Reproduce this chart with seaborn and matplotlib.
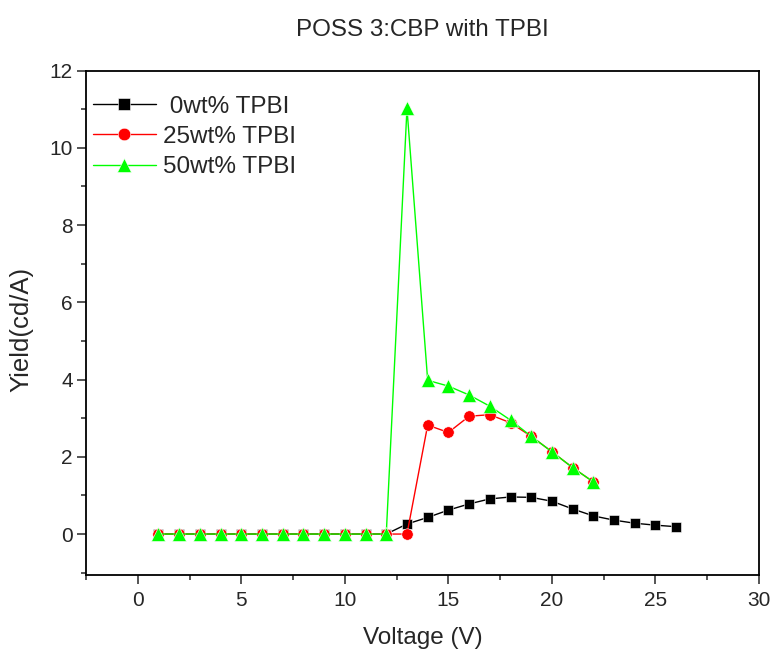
import matplotlib
matplotlib.use("Agg")
import matplotlib.pyplot as plt
import seaborn as sns
import pandas as pd
from matplotlib.ticker import MultipleLocator

# ---- data ----
v_0 = list(range(1, 27))
y_0 = [0, 0, 0, 0, 0, 0, 0, 0, 0, 0, 0, 0,
       0.26, 0.43, 0.62, 0.78, 0.91, 0.96, 0.95, 0.85, 0.65, 0.47, 0.36, 0.28, 0.23, 0.19]
v_25 = list(range(1, 23))
y_25 = [0, 0, 0, 0, 0, 0, 0, 0, 0, 0, 0, 0, 0,
        2.82, 2.63, 3.05, 3.09, 2.88, 2.53, 2.13, 1.72, 1.35]
v_50 = list(range(1, 23))
y_50 = [0, 0, 0, 0, 0, 0, 0, 0, 0, 0, 0, 0,
        11.02, 3.98, 3.83, 3.60, 3.31, 2.95, 2.53, 2.13, 1.72, 1.35]
labels = [" 0wt% TPBI", "25wt% TPBI", "50wt% TPBI"]
title = "POSS 3:CBP with TPBI"
xlabel = "Voltage (V)"
ylabel = "Yield(cd/A)"

sns.set_style("ticks")
plt.rcParams["font.family"] = ["Liberation Sans", "DejaVu Sans"]

fig = plt.figure(figsize=(7.76, 6.57), dpi=100)
ax = fig.add_axes([86 / 776, 1 - 575 / 657, (759 - 86) / 776, (575 - 70.5) / 657])

series = [
    (v_0, y_0, labels[0], "black", "s", 7.6),
    (v_25, y_25, labels[1], "#ff0000", "o", 8.2),
    (v_50, y_50, labels[2], "#00ff00", "^", 9.6),
]
for xs, ys, lab, col, mk, ms in series:
    df = pd.DataFrame({"V": xs, "Y": ys})
    sns.lineplot(data=df, x="V", y="Y", ax=ax, color=col, marker=mk,
                 markersize=ms, linewidth=1.0, label=lab,
                 markeredgecolor="white", markeredgewidth=0.4)

ax.set_xlim(-2.5, 30)
ax.set_ylim(-1.06, 12)
ax.xaxis.set_major_locator(MultipleLocator(5))
ax.xaxis.set_minor_locator(MultipleLocator(2.5))
ax.yaxis.set_major_locator(MultipleLocator(2))
ax.yaxis.set_minor_locator(MultipleLocator(1))

for s in ax.spines.values():
    s.set_linewidth(1.3)
    s.set_color("black")
    s.set_visible(True)
ax.tick_params(which="major", direction="out", length=6.5, width=1.1,
               labelsize=15, top=False, right=False, pad=3)
ax.tick_params(which="minor", direction="out", length=3.5, width=1.1,
               top=False, right=False)
ax.tick_params(axis="x", which="major", pad=5)

ax.set_xlabel(xlabel, fontsize=17.5, labelpad=12)
ax.set_ylabel(ylabel, fontsize=18.5)
ax.yaxis.set_label_coords(-0.078, 0.486)
ax.set_title(title, fontsize=17.4, pad=25)

leg = ax.legend(loc="upper left", bbox_to_anchor=(-0.012, 0.979), frameon=False,
                fontsize=17.5, handlelength=2.6, handletextpad=0.3,
                labelspacing=0.34, borderaxespad=0.3, borderpad=0.3,
                markerscale=1.1)

fig.savefig("out.png", dpi=100)
